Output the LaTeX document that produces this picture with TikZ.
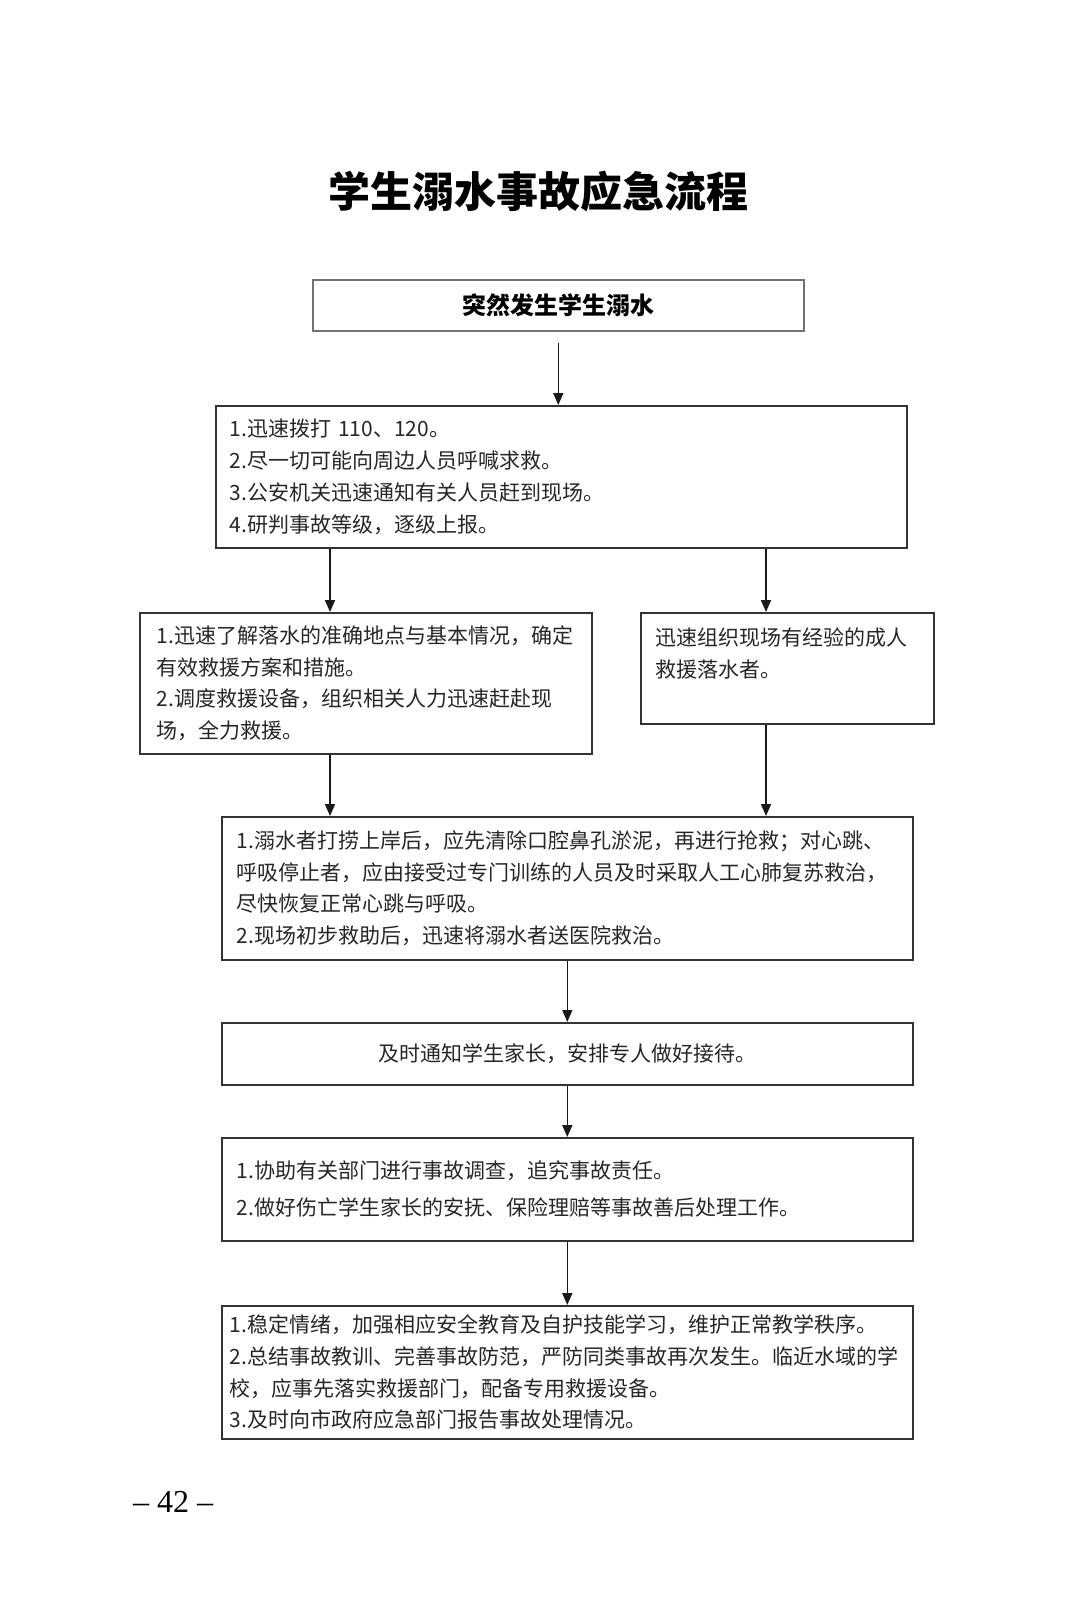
\documentclass[tikz,border=0pt]{standalone}
\usepackage{fontspec}
\setmainfont{Noto Sans CJK SC}
\newfontfamily\pagefont{Liberation Serif}
\usetikzlibrary{arrows.meta}
\begin{document}
\begin{tikzpicture}[x=1pt,y=-1pt,
  box/.style={draw=black!80, line width=1.6pt, rectangle, anchor=north west, align=left,
    inner ysep=0pt, text=black!85, font=\fontsize{21}{31.7}\selectfont},
  arr/.style={draw=black!90, line width=1.6pt, -{Triangle[length=12pt,width=10pt]}}]
\useasboundingbox (0,0) rectangle (1080,1618);
\node[font=\fontsize{42}{50}\selectfont\bfseries, text=black] (title) at (538,191) {学生溺水事故应急流程};
\node[box, draw=black!55, align=center, minimum width=491pt, minimum height=51pt,
  text=black, font=\fontsize{24}{28}\selectfont\bfseries] (b1) at (312,279) {突然发生学生溺水};
\node[box, minimum width=691pt, minimum height=142pt, inner xsep=14pt, text width=663pt] (b2) at (215,405)
  {1.迅速拨打 110、120。\\2.尽一切可能向周边人员呼喊求救。\\3.公安机关迅速通知有关人员赶到现场。\\4.研判事故等级，逐级上报。};
\node[box, minimum width=452pt, minimum height=141pt, inner xsep=17pt, text width=418pt] (b3) at (139,612)
  {1.迅速了解落水的准确地点与基本情况，确定\\有效救援方案和措施。\\2.调度救援设备，组织相关人力迅速赶赴现\\场，全力救援。};
\node[box, minimum width=293pt, minimum height=111pt, inner xsep=15pt, text width=263pt] (b4) at (640,612)
  {迅速组织现场有经验的成人\\救援落水者。\\\mbox{}};
\node[box, minimum width=691pt, minimum height=143pt, inner xsep=15pt, text width=661pt] (b5) at (221,816)
  {1.溺水者打捞上岸后，应先清除口腔鼻孔淤泥，再进行抢救；对心跳、\\呼吸停止者，应由接受过专门训练的人员及时采取人工心肺复苏救治，\\尽快恢复正常心跳与呼吸。\\2.现场初步救助后，迅速将溺水者送医院救治。};
\node[box, align=center, minimum width=691pt, minimum height=62pt] (b6) at (221,1022)
  {及时通知学生家长，安排专人做好接待。};
\node[box, minimum width=691pt, minimum height=103pt, inner xsep=15pt, text width=661pt,
  font=\fontsize{21}{37}\selectfont] (b7) at (221,1137)
  {1.协助有关部门进行事故调查，追究事故责任。\\2.做好伤亡学生家长的安抚、保险理赔等事故善后处理工作。};
\node[box, minimum width=691pt, minimum height=133pt, inner xsep=8pt, text width=675pt] (b8) at (221,1305)
  {1.稳定情绪，加强相应安全教育及自护技能学习，维护正常教学秩序。\\2.总结事故教训、完善事故防范，严防同类事故再次发生。临近水域的学\\校，应事先落实救援部门，配备专用救援设备。\\3.及时向市政府应急部门报告事故处理情况。};
\node[font=\pagefont\fontsize{32}{38}\selectfont] (page) at (173,1502) {– 42 –};
\coordinate (xl) at (330,0);
\coordinate (xr) at (766,0);
\draw[arr, shorten <=11pt] (b1.south) -- (b1.south |- b2.north);
\draw[arr] (b2.south -| xl) -- (b3.north -| xl);
\draw[arr] (b2.south -| xr) -- (b4.north -| xr);
\draw[arr] (b3.south -| xl) -- (b5.north -| xl);
\draw[arr] (b4.south -| xr) -- (b5.north -| xr);
\draw[arr] (b5.south) -- (b6.north);
\draw[arr] (b6.south) -- (b7.north);
\draw[arr] (b7.south) -- (b8.north);
\end{tikzpicture}
\end{document}
